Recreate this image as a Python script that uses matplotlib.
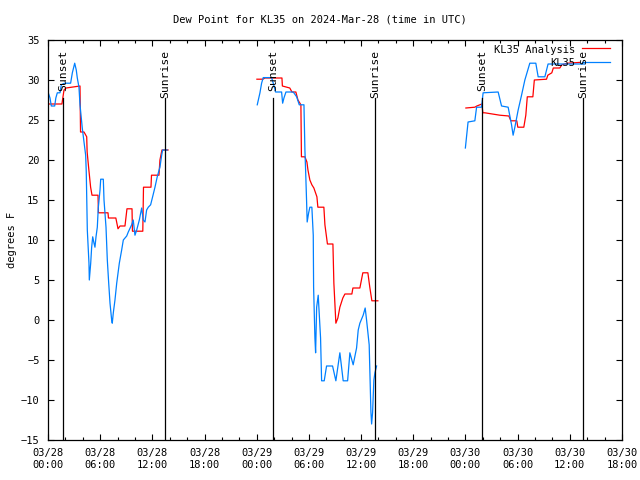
import numpy as np
import pandas as pd
import matplotlib
matplotlib.use("Agg")
import matplotlib.pyplot as plt
import matplotlib.dates as mdates

plt.rcParams["font.family"] = ["DejaVu Sans Mono"]
plt.rcParams["font.size"] = 7.5

BASE = pd.Timestamp("2024-03-28 00:00")

# ==================== data (hours after 03/28 00:00 UTC, degrees F) ====================
obs_h1 = [0.0, 0.23, 0.38, 0.77, 0.9, 1.07, 1.38, 1.53, 1.9, 2.6, 2.8, 3.07, 3.25, 3.37, 3.56, 3.68,
          3.94, 4.14, 4.33, 4.4, 4.52, 4.71, 4.75, 4.91, 5.02, 5.14, 5.29, 5.4, 5.52, 5.67, 5.78,
          5.98, 6.06, 6.36, 6.44, 6.67, 6.82, 6.98, 7.13, 7.32, 7.39, 7.51, 7.7, 7.9, 8.2, 8.47,
          8.66, 9.05, 9.23, 9.62, 9.8, 10.0, 10.2, 10.5, 10.77, 10.95, 11.15, 11.34, 11.53, 11.8,
          12.03, 12.3, 12.56, 12.87, 13.07, 13.18, 13.7]
obs_v1 = [28.5, 27.75, 26.75, 26.75, 27.75, 28.4, 28.4, 29.4, 29.6, 29.6, 30.9, 32.1, 31.25, 30.25,
          29.1, 26.9, 24.0, 22.25, 20.6, 18.5, 11.25, 7.1, 5.0, 7.1, 9.1, 10.4, 9.6, 9.1, 10.4,
          11.6, 14.0, 16.25, 17.6, 17.6, 15.0, 11.6, 7.5, 4.6, 2.1, 0.0, -0.4, 0.9, 2.5, 4.6, 7.1,
          8.75, 10.0, 10.5, 11.0, 11.9, 12.5, 10.6, 11.25, 12.5, 14.0, 12.5, 12.25, 13.75, 14.1,
          14.4, 15.4, 16.6, 17.9, 19.1, 20.6, 21.25, 21.25]

obs_h2 = [24.06, 24.37, 24.56, 24.75, 25.71, 25.9, 26.17, 26.86, 26.98, 27.13, 27.36, 28.2, 28.59,
          28.89, 29.43, 29.54, 29.62, 29.74, 29.8, 29.97, 30.11, 30.34, 30.5, 30.54, 30.69, 30.77,
          30.89, 31.07, 31.34, 31.46, 31.76, 32.03, 32.72, 33.1, 33.56, 33.94, 34.45, 34.71, 35.09,
          35.48, 35.67, 35.86, 36.24, 36.47, 36.63, 36.93, 37.13, 37.21, 37.32, 37.47, 37.59, 37.78]
obs_v2 = [26.9, 28.4, 29.6, 30.3, 30.3, 29.6, 28.5, 28.5, 27.1, 27.75, 28.5, 28.5, 27.9,
          26.9, 26.9, 21.25, 18.75, 14.6, 12.25, 13.4, 14.1, 14.1, 10.6, 4.1, -2.25, -4.1,
          1.6, 3.1, -2.25, -7.6, -7.6, -5.75, -5.75, -7.6, -4.1, -7.6, -7.6, -4.1, -5.6,
          -3.5, -1.25, -0.4, 0.6, 1.5, 0.0, -3.1, -11.5, -13.0, -11.6, -7.5, -6.6, -5.75]

obs_h3 = [47.99, 48.3, 49.08, 49.28, 49.85, 50.03, 51.76, 52.15, 52.91, 53.3, 53.48, 53.68, 54.06,
          54.45, 54.83, 55.4, 56.09, 56.36, 57.13, 57.5, 61.7]
obs_v3 = [21.5, 24.75, 24.9, 26.6, 26.6, 28.4, 28.5, 26.75, 26.6, 24.4, 23.1, 24.1, 26.25,
          28.1, 30.0, 32.1, 32.1, 30.4, 30.4, 32.0, 32.0]

ana_h1 = [0.0, 1.6, 1.84, 2.07, 3.68, 3.74, 4.14, 4.45, 4.5, 4.7, 4.9, 5.06, 5.75, 5.8, 6.9, 6.95,
          7.8, 8.05, 8.28, 8.85, 9.08, 9.66, 9.71, 10.9, 10.98, 11.84, 11.9, 12.76, 12.87, 13.1, 13.8]
ana_v1 = [27.0, 27.0, 28.75, 29.0, 29.25, 23.5, 23.5, 22.9, 21.0, 18.75, 16.6, 15.6, 15.6, 13.4,
          13.4, 12.75, 12.75, 11.4, 11.75, 11.75, 13.9, 13.9, 11.1, 11.1, 16.6, 16.6, 18.1, 18.1,
          20.0, 21.25, 21.25]

ana_h2 = [24.02, 24.71, 24.94, 26.9, 26.95, 27.8, 28.05, 28.5, 28.74, 29.08, 29.14, 29.54, 29.77,
          29.89, 30.11, 30.34, 30.57, 30.92, 31.03, 31.72, 31.84, 32.07, 32.13, 32.76, 32.87, 33.1,
          33.33, 33.56, 33.9, 34.14, 34.94, 35.06, 35.86, 36.2, 36.78, 37.0, 37.24, 37.93]
ana_v2 = [30.1, 30.1, 30.25, 30.25, 29.25, 29.0, 28.5, 28.5, 27.5, 26.9, 20.4, 20.4, 19.75,
          18.75, 17.5, 16.9, 16.5, 15.4, 14.1, 14.1, 11.9, 10.0, 9.5, 9.5, 4.6, -0.4,
          0.25, 1.6, 2.75, 3.25, 3.25, 4.0, 4.0, 5.9, 5.9, 4.1, 2.4, 2.4]

ana_h3 = [48.05, 49.08, 49.31, 49.89, 50.0, 50.23, 51.95, 52.99, 53.22, 53.9, 54.02, 54.71, 54.94,
          55.11, 55.75, 55.92, 57.32, 57.47, 57.93, 58.1, 58.85, 59.08, 59.77, 61.15]
ana_v3 = [26.5, 26.6, 26.75, 27.0, 25.9, 25.9, 25.6, 25.5, 24.9, 24.9, 24.1, 24.1, 25.6,
          27.9, 27.9, 30.0, 30.1, 30.6, 30.9, 31.5, 31.5, 31.9, 32.1, 32.2]

sunset_h = [1.72, 25.86, 49.89]
sunrise_h = [13.45, 37.59, 61.49]
# =======================================================================================


def to_time(hours):
    return BASE + pd.to_timedelta(np.array(hours), unit="h")


fig = plt.figure(figsize=(6.4, 4.8), dpi=100)
ax = fig.add_axes([48 / 640, 40 / 480, 574 / 640, 400 / 480])

for h, v in [(ana_h1, ana_v1), (ana_h2, ana_v2), (ana_h3, ana_v3)]:
    ax.plot(to_time(h), v, color="#ff0000", linewidth=0.9)
for h, v in [(obs_h1, obs_v1), (obs_h2, obs_v2), (obs_h3, obs_v3)]:
    ax.plot(to_time(h), v, color="#0080ff", linewidth=0.9)

for label, hours in [("Sunset", sunset_h), ("Sunrise", sunrise_h)]:
    for t in to_time(hours):
        ax.axvline(t, ymin=0, ymax=0.855, color="black", linewidth=0.9)
        ax.text(t, 0.975, label, transform=ax.get_xaxis_transform(), rotation=90,
                ha="center", va="top", fontsize=8.2)

# legend drawn by hand, gnuplot style
ax.text(0.918, 0.976, "KL35 Analysis", transform=ax.transAxes, ha="right", va="center")
ax.plot([0.930, 0.979], [0.980, 0.980], transform=ax.transAxes, color="#ff0000",
        linewidth=0.9, clip_on=False)
ax.text(0.918, 0.943, "KL35", transform=ax.transAxes, ha="right", va="center")
ax.plot([0.930, 0.979], [0.945, 0.945], transform=ax.transAxes, color="#0080ff",
        linewidth=0.9, clip_on=False)

ax.set_xlim(BASE, BASE + pd.Timedelta(hours=66))
ax.set_ylim(-15, 35)
ax.set_yticks(range(-15, 36, 5))
ax.xaxis.set_major_locator(mdates.HourLocator(byhour=range(0, 24, 6)))
ax.xaxis.set_minor_locator(mdates.HourLocator(byhour=range(0, 24, 2)))
ax.xaxis.set_major_formatter(mdates.DateFormatter("%m/%d\n%H:%M"))
ax.tick_params(which="both", direction="in", top=True, right=True, width=0.8)
ax.tick_params(which="major", length=4, pad=6)
ax.tick_params(which="minor", length=2.5)
for s in ax.spines.values():
    s.set_linewidth(0.9)

ax.set_ylabel("degrees F", labelpad=3)
fig.text(0.5, 1 - 19 / 480, "Dew Point for KL35 on 2024-Mar-28 (time in UTC)",
         ha="center", va="center")

fig.savefig("out.png", dpi=100)
